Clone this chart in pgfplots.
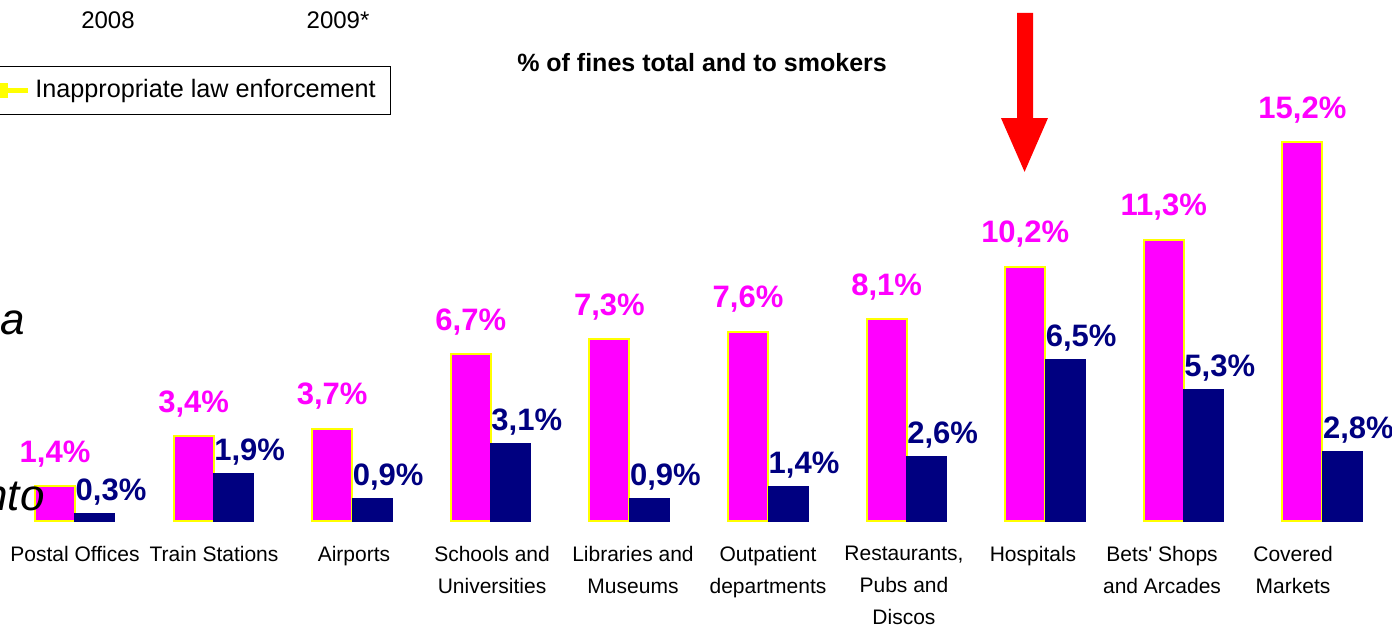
\documentclass[border=0pt]{standalone}
\usepackage{pgfplots}
\pgfplotsset{compat=1.18}
\usepackage{fontspec}
\setmainfont{Liberation Sans}
\definecolor{mag}{RGB}{255,0,255}
\definecolor{nav}{RGB}{0,0,128}
\definecolor{yel}{RGB}{255,255,0}
\begin{document}
\begin{tikzpicture}
\begin{axis}[
  scale only axis, width=696pt, height=260.5pt,
  xmin=-0.5411, xmax=9.5022, ymin=0, ymax=20.92,
  axis line style={draw=none}, major tick length=0pt, ytick=\empty,
  xtick={0,1.003,2.013,3.009,4.026,5,5.981,6.912,7.843,8.788},
  xticklabels={Postal Offices, Train Stations, Airports, {Schools and\\Universities}, {Libraries and\\Museums}, {Outpatient\\departments}, {Restaurants,\\Pubs and\\Discos}, Hospitals, {Bets\textquotesingle\ Shops\\and Arcades}, {Covered\\Markets}},
  xticklabel style={align=center, anchor=north, inner sep=0pt, yshift=-12.3pt, font=\fontsize{10.5}{16}\selectfont},
  ybar, bar width=20pt,
  clip=false,
  nodes near coords={\pgfmathprintnumber[fixed,fixed zerofill,precision=1,use comma,assume math mode=true]{\pgfplotspointmeta}\%},
  every node near coord/.append style={font=\fontsize{15.5}{18}\selectfont\bfseries, anchor=base, inner sep=0pt},
]
\addplot[fill=mag, draw=yel, line width=1pt, bar shift=-10pt, every node near coord/.append style={text=mag, yshift=12pt}] coordinates {
(0,1.4) (1,3.4) (2,3.7) (3,6.7) (4,7.3) (5,7.6) (6,8.1) (7,10.2) (8,11.3) (9,15.2)};
\addplot[fill=nav, draw=nav, line width=0.5pt, bar shift=10pt, every node near coord/.append style={text=nav, yshift=6.5pt, xshift=8pt}] coordinates {
(0,0.3) (1,1.9) (2,0.9) (3,3.1) (4,0.9) (5,1.4) (6,2.6) (7,6.5) (8,5.3) (9,2.8)};
% annotations
\node[font=\fontsize{12}{14}\selectfont] at (axis cs:0.238,20.12) {2008};
\node[font=\fontsize{12}{14}\selectfont] at (axis cs:1.898,20.12) {2009*};
\node[font=\fontsize{12.5}{14}\selectfont\bfseries] at (axis cs:4.524,18.39) {\% of fines total and to smokers};
\draw[black, line width=0.5pt] (axis cs:-0.7,16.31) rectangle (axis cs:2.273,18.23);
\draw[yel, line width=2.5pt] (axis cs:-0.62,17.27) -- (axis cs:-0.339,17.27);
\fill[yel] (axis cs:-0.541,17.27) +(-3.75pt,-3.75pt) rectangle +(3.75pt,3.75pt);
\node[anchor=west, inner sep=0pt, font=\fontsize{12.6}{14}\selectfont] at (axis cs:-0.289,17.27) {Inappropriate law enforcement};
\node[anchor=base east, inner sep=0pt, font=\fontsize{22}{26}\selectfont\itshape] at (axis cs:-0.361,7.47) {ea};
\node[anchor=base east, inner sep=0pt, font=\fontsize{22}{26}\selectfont\itshape] at (axis cs:-0.216,0.44) {nto};
\fill[red] (axis cs:6.797,20.40) -- (axis cs:6.912,20.40) -- (axis cs:6.912,16.18) -- (axis cs:7.020,16.18) -- (axis cs:6.851,14.02) -- (axis cs:6.681,16.18) -- (axis cs:6.797,16.18) -- cycle;
\end{axis}
\pgfresetboundingbox
\useasboundingbox ([yshift=-53pt]current axis.south west) rectangle (current axis.north east);
\end{tikzpicture}
\end{document}
